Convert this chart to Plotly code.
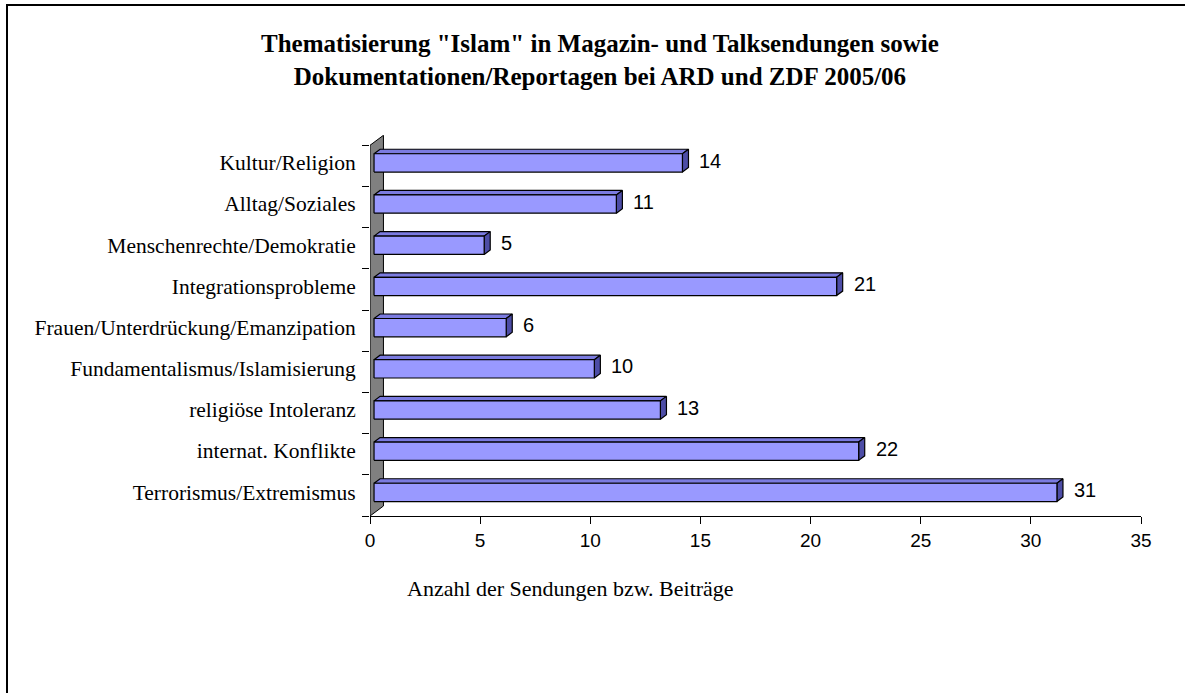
import plotly.graph_objects as go

# ---- data ----
categories = [
    "Kultur/Religion",
    "Alltag/Soziales",
    "Menschenrechte/Demokratie",
    "Integrationsprobleme",
    "Frauen/Unterdrückung/Emanzipation",
    "Fundamentalismus/Islamisierung",
    "religiöse Intoleranz",
    "internat. Konflikte",
    "Terrorismus/Extremismus",
]
values = [14, 11, 5, 21, 6, 10, 13, 22, 31]
x_ticks = [0, 5, 10, 15, 20, 25, 30, 35]
title_lines = [
    'Thematisierung "Islam" in Magazin- und Talksendungen sowie',
    "Dokumentationen/Reportagen bei ARD und ZDF 2005/06",
]
x_title = "Anzahl der Sendungen bzw. Beiträge"

# ---- geometry (pseudo 3D) ----
W, H = 1185, 693
L, R, T, B = 370, 44, 135, 177
n = len(categories)
y_pos = list(range(n - 1, -1, -1))  # top category at highest y
wall_dx, wall_dy = 0.61, 0.243     # depth of the back wall in data units
d0, d1 = 0.30, 0.75                # bar depth range (fraction of wall depth)
h = 0.222                          # half height of bar

FRONT = "#9999FF"
TOP = "#7B7BE0"
SIDE = "#4D4DA6"
WALL = "#808080"

fig = go.Figure()

# back wall
fig.add_trace(go.Scatter(
    x=[0, 0, wall_dx, wall_dx, 0],
    y=[-0.5, n - 0.5, n - 0.5 + wall_dy, -0.5 + wall_dy, -0.5],
    mode="lines", fill="toself", fillcolor=WALL,
    line=dict(color="black", width=1), hoverinfo="skip", showlegend=False,
))

fx, fy = d0 * wall_dx, d0 * wall_dy
bx, by = d1 * wall_dx, d1 * wall_dy

front_x, front_y, top_x, top_y, side_x, side_y = [], [], [], [], [], []
for v, yc in zip(values, y_pos):
    lo, hi = yc - h, yc + h
    front_x += [fx, v + fx, v + fx, fx, fx, None]
    front_y += [lo + fy, lo + fy, hi + fy, hi + fy, lo + fy, None]
    top_x += [fx, v + fx, v + bx, bx, fx, None]
    top_y += [hi + fy, hi + fy, hi + by, hi + by, hi + fy, None]
    side_x += [v + fx, v + bx, v + bx, v + fx, v + fx, None]
    side_y += [lo + fy, lo + by, hi + by, hi + fy, lo + fy, None]

for xs, ys, col in [(top_x, top_y, TOP), (side_x, side_y, SIDE), (front_x, front_y, FRONT)]:
    fig.add_trace(go.Scatter(
        x=xs, y=ys, mode="lines", fill="toself", fillcolor=col,
        line=dict(color="black", width=1.2), hoverinfo="skip", showlegend=False,
    ))

# value labels
for v, yc in zip(values, y_pos):
    fig.add_annotation(
        x=v + bx, y=yc + 0.13, xref="x", yref="y", text=str(v),
        showarrow=False, xanchor="left", yanchor="middle", xshift=9,
        font=dict(family="Liberation Sans, Arial", size=20, color="black"),
    )

pw = W - L - R
ph = H - T - B

def px_to_paper_x(px):
    return (px - L) / pw

def py_to_paper_y(py):
    return (H - B - py) / ph

# axis title
fig.add_annotation(
    x=px_to_paper_x(570), y=py_to_paper_y(588), xref="paper", yref="paper",
    text=x_title, showarrow=False, xanchor="center", yanchor="middle",
    font=dict(family="Liberation Serif, Times New Roman", size=22, color="black"),
)

# chart title
fig.add_annotation(
    x=px_to_paper_x(600), y=py_to_paper_y(60), xref="paper", yref="paper",
    text="<b>" + "<br>".join(title_lines) + "</b>", showarrow=False,
    xanchor="center", yanchor="middle",
    font=dict(family="Liberation Serif, Times New Roman", size=25, color="black"),
)

# outer frame (left and top edges visible)
fig.add_shape(type="line", xref="paper", yref="paper",
              x0=px_to_paper_x(7), x1=px_to_paper_x(7),
              y0=py_to_paper_y(5), y1=py_to_paper_y(700),
              line=dict(color="black", width=2))
fig.add_shape(type="line", xref="paper", yref="paper",
              x0=px_to_paper_x(6), x1=px_to_paper_x(1190),
              y0=py_to_paper_y(5), y1=py_to_paper_y(5),
              line=dict(color="black", width=2))

fig.update_layout(
    width=W, height=H,
    margin=dict(l=L, r=R, t=T, b=B),
    paper_bgcolor="white", plot_bgcolor="white",
    xaxis=dict(
        range=[0, 35], tickvals=x_ticks, ticktext=[str(t) for t in x_ticks],
        showgrid=False, zeroline=False, showline=True, linecolor="black", linewidth=1,
        ticks="outside", ticklen=7, tickcolor="black",
        tickfont=dict(family="Liberation Sans, Arial", size=19, color="black"),
    ),
    yaxis=dict(
        range=[-0.5, n - 0.5 + 0.25], tickvals=[p + 0.08 for p in y_pos], ticktext=categories,
        showgrid=False, zeroline=False, showline=False,
        ticks="outside", ticklen=9, tickcolor="rgba(0,0,0,0)",
        tickfont=dict(family="Liberation Serif, Times New Roman", size=21.5, color="black"),
        minor=dict(tickmode="linear", tick0=-0.5, dtick=1, ticks="outside",
                   ticklen=7, tickcolor="black", showgrid=False),
    ),
    showlegend=False,
)

fig.write_html("out.html", config={"displayModeBar": False},
               post_script="document.body.style.margin='0';")
